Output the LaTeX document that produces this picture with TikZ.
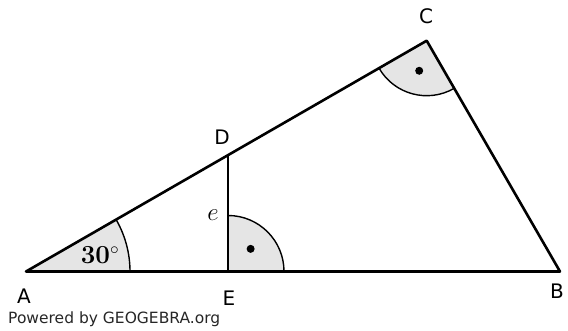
\documentclass[tikz,border=0pt]{standalone}
\usepackage{fontspec}
\newfontfamily\labfont{DejaVu Sans}
\begin{document}
\begin{tikzpicture}[x=1pt,y=1pt,
  side/.style={line width=2.6pt,line cap=round,line join=round},
  arcline/.style={line width=1.4pt},
  ptlabel/.style={font=\labfont\fontsize{20}{20}\selectfont,inner sep=0pt},
  mathlabel/.style={inner sep=0pt,font=\fontsize{25}{25}\selectfont}]
\useasboundingbox (0,0) rectangle (568,331);
\coordinate (A) at (26,59.5);
\coordinate (B) at (560,59.5);
\coordinate (C) at (426.7,290.3);
\coordinate (E) at (228,59.5);
\coordinate (D) at (228,175.85);
% angle markers
\fill[black!10] (A) -- ++(0:104) arc[start angle=0,end angle=30,radius=104] -- cycle;
\draw[arcline] (A) ++(0:104) arc[start angle=0,end angle=30,radius=104];
\fill[black!10] (E) -- ++(0:56) arc[start angle=0,end angle=90,radius=56] -- cycle;
\draw[arcline] (E) ++(0:56) arc[start angle=0,end angle=90,radius=56];
\fill[black!10] (C) -- ++(210:55) arc[start angle=210,end angle=300,radius=55] -- cycle;
\draw[arcline] (C) ++(210:55) arc[start angle=210,end angle=300,radius=55];
\fill (E) ++(45:32) circle[radius=4];
\fill (C) ++(256:31) circle[radius=4];
% triangle
\draw[side] (A) -- (B) -- (C) -- cycle;
\draw[side] (D) -- (E);
% labels
\node[ptlabel] (lA) at (24,35) {A};
\node[ptlabel] (lB) at (557,40) {B};
\node[ptlabel] (lC) at (426,315) {C};
\node[ptlabel] (lD) at (222,194) {D};
\node[ptlabel] (lE) at (229,33) {E};
\node[mathlabel] (le) at (213,116) {$e$};
\node[mathlabel,font=\fontsize{26}{26}\selectfont\bfseries] (l30) at (100,76) {30$^\circ$};
\node[anchor=base west,inner sep=0pt,font=\labfont\fontsize{15.5}{15.5}\selectfont,text=black!85] (wm) at (8,7) {Powered by GEOGEBRA.org};
\end{tikzpicture}
\end{document}
